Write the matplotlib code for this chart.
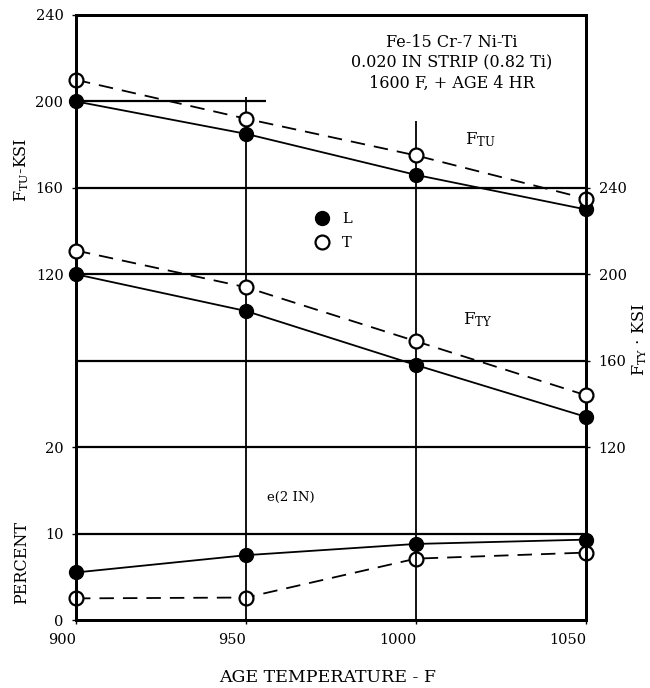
import matplotlib
matplotlib.use('Agg')
import matplotlib.pyplot as plt
from matplotlib.lines import Line2D

# ---- data ----
temps = [900, 950, 1000, 1050]
ftu_L = [200, 185, 166, 150]
ftu_T = [210, 192, 175, 155]
fty_L = [200, 183, 158, 134]
fty_T = [211, 194, 169, 144]
elong_L = [5.5, 7.5, 8.8, 9.3]
elong_T = [2.5, 2.6, 7.1, 7.8]

x_ticks = [900, 950, 1000, 1050]
ftu_ticks = [120, 160, 200, 240]
fty_ticks = [120, 160, 200, 240]
pct_ticks = [0, 10, 20]
grid_pct = [10, 20, 30, 40, 50]

plt.rcParams['font.family'] = ['DejaVu Serif']
plt.rcParams['mathtext.fontset'] = 'dejavuserif'

W, H = 650, 688
fig = plt.figure(figsize=(6.5, 6.88), dpi=100)
ax = fig.add_axes([76 / W, 68 / H, 510 / W, 605 / H])
ax_tu = ax.twinx()
ax_ty = ax.twinx()

ax.set_xlim(900, 1050)
ax.set_ylim(0, 70)
ax_tu.set_ylim(-40, 240)
ax_ty.set_ylim(40, 320)

for a in (ax, ax_tu, ax_ty):
    for s in a.spines.values():
        s.set_linewidth(2.0)
        s.set_color('black')

# grid structure
ax.hlines(grid_pct, 900, 1050, colors='black', lw=1.6, zorder=1)
ax_tu.hlines(200, 900, 956, colors='black', lw=1.6, zorder=1)
ax_tu.vlines(950, -40, 202, colors='black', lw=1.3, zorder=1)
ax_tu.vlines(1000, -40, 191, colors='black', lw=1.3, zorder=1)

dash = (0, (8, 5))
lw = 1.3
ms = 10

def draw(a, ys_L, ys_T):
    a.plot(temps, ys_L, color='black', lw=lw, zorder=2)
    a.plot(temps, ys_T, color='black', lw=lw, ls=dash, zorder=2)
    a.plot(temps, ys_L, ls='none', marker='o', ms=ms, mfc='black',
           mec='black', zorder=4, clip_on=False)
    a.plot(temps, ys_T, ls='none', marker='o', ms=ms, mfc='white',
           mec='black', mew=1.6, zorder=4, clip_on=False)

draw(ax_tu, ftu_L, ftu_T)
draw(ax_ty, fty_L, fty_T)
draw(ax, elong_L, elong_T)

# ticks
fs = 10.5
ax.set_xticks(x_ticks)
ax.set_xticklabels([str(t) for t in x_ticks])
for lbl in ax.get_xticklabels():
    lbl.set_ha('right')
ax.set_yticks(pct_ticks)
ax.tick_params(axis='both', length=3, width=1, labelsize=fs, pad=6)
ax_tu.yaxis.tick_left()
ax_tu.set_yticks(ftu_ticks)
ax_tu.tick_params(axis='y', length=3, width=1, labelsize=fs, pad=6)
ax_ty.yaxis.tick_right()
ax_ty.set_yticks(fty_ticks)
ax_ty.tick_params(axis='y', length=3, width=1, labelsize=fs, pad=6)

# axis labels
fl = 11.5
fig.text(22 / W, 1 - 170 / H, r'F$_{\mathrm{TU}}$-KSI', rotation=90,
         ha='center', va='center', fontsize=fl)
fig.text(22 / W, 1 - 562 / H, 'PERCENT', rotation=90,
         ha='center', va='center', fontsize=fl)
fig.text(640 / W, 1 - 340 / H, r'F$_{\mathrm{TY}}$ $\cdot$ KSI', rotation=90,
         ha='center', va='center', fontsize=fl)
fig.text(328 / W, 1 - 677 / H, 'AGE TEMPERATURE - F',
         ha='center', va='center', fontsize=12.5)

# annotations
fig.text(452 / W, 1 - 63 / H,
         'Fe-15 Cr-7 Ni-Ti\n0.020 IN STRIP (0.82 Ti)\n1600 F, + AGE 4 HR',
         ha='center', va='center', fontsize=11.5, linespacing=1.25,
         multialignment='center')
fig.text(480 / W, 1 - 140 / H, r'F$_{\mathrm{TU}}$', ha='center',
         va='center', fontsize=12)
fig.text(478 / W, 1 - 320 / H, r'F$_{\mathrm{TY}}$', ha='center',
         va='center', fontsize=12)
fig.text(291 / W, 1 - 497 / H, 'e(2 IN)', ha='center', va='center',
         fontsize=9.5)

# legend
h_L = Line2D([], [], ls='none', marker='o', ms=ms, mfc='black', mec='black')
h_T = Line2D([], [], ls='none', marker='o', ms=ms, mfc='white', mec='black',
             mew=1.6)
leg = ax_ty.legend([h_L, h_T], ['L', 'T'], loc='center',
                   bbox_to_anchor=(333 / W, 1 - 231 / H),
                   bbox_transform=fig.transFigure, frameon=False,
                   fontsize=fs, handlelength=1.0, handletextpad=0.9,
                   labelspacing=0.7)
leg.set_zorder(10)

fig.savefig('out.png', dpi=100)
